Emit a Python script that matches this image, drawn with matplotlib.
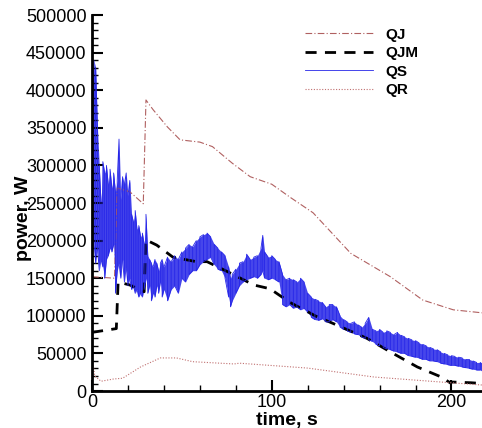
import numpy as np
import matplotlib
matplotlib.use("Agg")
import matplotlib.pyplot as plt
from matplotlib.ticker import MultipleLocator

plt.rcParams['font.family'] = ['Liberation Sans', 'DejaVu Sans']

# QJ, dash-dot
qj_t = [0, 12.5, 14, 21, 28.5, 30, 34, 42, 49, 60, 67, 78, 88, 100, 110, 123, 144, 166, 184, 201, 217]
qj_p = [152000, 150000, 270000, 265000, 249000, 387000, 374000, 351000, 334000, 331000, 325000,
        303000, 285000, 275000, 258000, 237000, 183000, 152000, 121000, 108000, 104000]

# QJM, dashed
qjm_t = [0, 13.5, 14.5, 21, 29, 30, 36, 45, 58, 64, 76, 90, 99, 110, 125, 134, 153, 166, 181, 194, 199.5, 200, 211, 217]
qjm_p = [78000, 83000, 145000, 141000, 132000, 201000, 194000, 178000, 172000, 172000, 158000,
         141000, 136000, 118000, 99000, 90000, 70000, 52000, 32000, 19000, 10600, 12000, 11000, 10000]

# QR, dotted
qr_t = [0, 1.5, 5, 12, 17, 27, 38, 47, 56, 79, 82, 120, 157, 194, 217]
qr_p = [45000, 20000, 13000, 16000, 17000, 32000, 44000, 44000, 39000, 36000, 37000, 30500, 18600, 12000, 8000]

# QS, noisy signal: low / high values read at each time (in kW)
qs_t = list(range(0, 41)) + [42, 44, 46, 48, 50, 52, 54, 56, 58, 60, 62, 64, 66, 68, 70, 72, 74, 76, 77, 78,
        80, 82, 84, 86, 88, 90, 92, 94, 95, 96, 98, 100, 102, 104, 106, 108, 110, 112, 114, 116, 118,
        120, 122, 124, 126, 128, 130, 132, 134, 136, 138, 140, 142, 144, 146, 148, 150, 152, 154, 156,
        158, 160, 162, 164, 166, 168, 170, 172, 174, 176, 178, 180, 182, 184, 186, 188, 190, 192, 194,
        196, 198, 200, 202, 204, 206, 208, 210, 212, 214, 216, 217]
qs_lo = [175, 200, 170, 190, 160, 175, 165, 150, 175, 180, 190, 185, 195, 130, 160, 170, 150, 175, 145, 165,
         140, 150, 135, 140, 130, 135, 125, 130, 125, 135, 150, 130, 140, 120, 130, 125, 140, 130, 145, 125,
         135, 120, 135, 140, 130, 150, 145, 155, 160, 160, 168, 172, 175, 178, 168, 162, 160, 150, 125, 112,
         120, 130, 140, 145, 148, 150, 152, 150, 155, 160, 150, 148, 150, 148, 145, 115, 112, 115, 110, 112,
         108, 110, 105, 98, 95, 94, 96, 92, 92, 95, 92, 85, 82, 80, 78, 76, 75, 72, 70, 68, 66, 62, 60, 58,
         56, 55, 53, 52, 50, 50, 47, 46, 45, 44, 42, 42, 40, 40, 39, 37, 36, 35, 34, 34, 33, 32, 31, 30, 29,
         28, 28, 27]
qs_hi = [300, 440, 430, 350, 300, 250, 305, 290, 300, 275, 295, 270, 290, 265, 280, 335, 255, 285, 275, 290,
         260, 280, 235, 225, 240, 215, 220, 205, 210, 195, 235, 180, 175, 170, 165, 175, 170, 160, 170, 175,
         165, 178, 172, 180, 175, 185, 190, 195, 192, 200, 205, 208, 210, 205, 195, 190, 185, 180, 165, 150,
         155, 162, 170, 172, 182, 175, 178, 180, 190, 207, 185, 178, 180, 175, 172, 155, 148, 150, 148, 145,
         150, 145, 130, 125, 122, 120, 118, 112, 115, 115, 112, 100, 95, 92, 90, 92, 88, 85, 90, 98, 82, 80,
         82, 78, 80, 78, 75, 78, 74, 72, 70, 68, 67, 64, 62, 60, 58, 56, 55, 52, 50, 48, 47, 46, 45, 44, 42,
         42, 40, 38, 38, 36]

# zigzag between low and high at each sample time
xs, ys = [], []
for i, t in enumerate(qs_t):
    pair = (qs_lo[i], qs_hi[i]) if i % 2 == 0 else (qs_hi[i], qs_lo[i])
    xs += [t, t]
    ys += [pair[0] * 1000, pair[1] * 1000]

fig = plt.figure(figsize=(4.82, 4.28), dpi=100)
ax = fig.add_axes([0.191, 0.0864, 0.809, 0.8785])

blue = '#2626e8'
l_qj, = ax.plot(qj_t, qj_p, color='#b06060', lw=0.8, dashes=(6, 2, 1, 2))
l_qjm, = ax.plot(qjm_t, qjm_p, color='black', lw=2.0, dashes=(4, 3))
ax.fill_between(qs_t, np.array(qs_lo) * 1000, np.array(qs_hi) * 1000, color=blue, alpha=0.85, lw=0)
l_qs, = ax.plot(xs, ys, color=blue, lw=0.6)
l_qr, = ax.plot(qr_t, qr_p, color='#c07070', lw=0.8, dashes=(1, 1.5))

ax.set_xlim(0, 217)
ax.set_ylim(0, 500000)
ax.spines['top'].set_visible(False)
ax.spines['right'].set_visible(False)
ax.spines['left'].set_linewidth(2)
ax.spines['bottom'].set_linewidth(2)

ax.xaxis.set_major_locator(MultipleLocator(100))
ax.xaxis.set_minor_locator(MultipleLocator(20))
ax.yaxis.set_major_locator(MultipleLocator(50000))
ax.yaxis.set_minor_locator(MultipleLocator(10000))
ax.tick_params(which='major', direction='in', length=8, width=1.5, labelsize=13, pad=4)
ax.tick_params(which='minor', direction='in', length=4, width=1)
ax.tick_params(axis='x', which='major', pad=2)

ax.set_xlabel('time, s', fontsize=14, fontweight='bold', labelpad=1)
ax.set_ylabel('power, W', fontsize=14, fontweight='bold', labelpad=4)
ax.yaxis.set_label_coords(-0.155, 0.46)

leg = ax.legend([l_qj, l_qjm, l_qs, l_qr], ['QJ', 'QJM', 'QS', 'QR'],
                loc='upper left', bbox_to_anchor=(0.51, 1.003), frameon=False, handlelength=4.5,
                handletextpad=0.8, labelspacing=0.3, prop={'weight': 'bold', 'size': 11})

fig.savefig('out.png', dpi=100)
